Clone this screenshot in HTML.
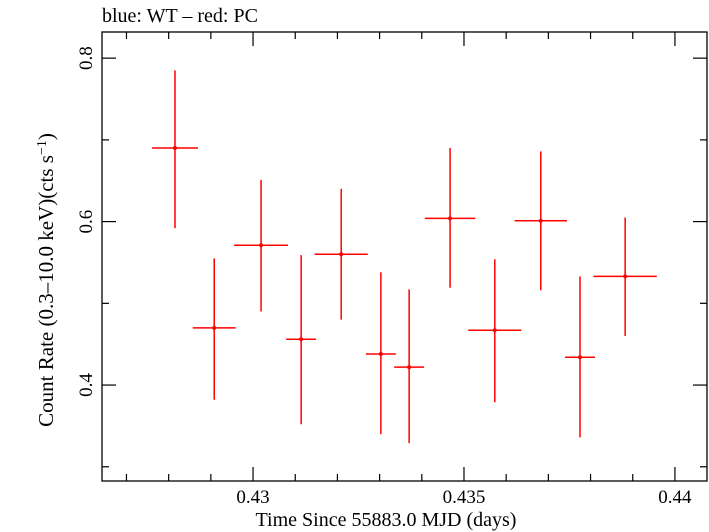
<!DOCTYPE html>
<html><head><meta charset="utf-8"><style>
body{margin:0;background:#fff}
svg{display:block;font-family:"Liberation Serif",serif}
</style></head><body>
<svg id="c" width="709" height="532">
<text x="102" y="22" font-size="20">blue: WT – red: PC</text>
<rect x="102" y="32" width="605" height="449" fill="none" stroke="#000" stroke-width="1.3"/>
<g id="ax"></g>
<g id="marks"></g>
<text x="386" y="526" font-size="20" text-anchor="middle">Time Since 55883.0 MJD (days)</text>
<text transform="translate(53,280) rotate(-90)" font-size="21" text-anchor="middle">Count Rate (0.3–10.0 keV)(cts s<tspan dy="-7" font-size="14">−1</tspan><tspan dy="7">)</tspan></text>
</svg>
<script>
const times=[0.42815,0.42908,0.43019,0.43114,0.43209,0.43303,0.43370,0.43467,0.43573,0.43682,0.43775,0.43882];
const timeErr=[0.000545,0.00051,0.00064,0.000355,0.00063,0.000355,0.000355,0.0006,0.00063,0.00062,0.000355,0.00075];
const rates=[0.690,0.470,0.571,0.456,0.560,0.438,0.422,0.604,0.467,0.601,0.434,0.533];
const rateHi=[0.785,0.555,0.651,0.559,0.640,0.538,0.517,0.690,0.554,0.686,0.533,0.605];
const rateLo=[0.592,0.382,0.490,0.352,0.480,0.340,0.329,0.519,0.379,0.516,0.336,0.460];
const xTickLabels=["0.43","0.435","0.44"];
const yTickLabels=["0.4","0.6","0.8"];
const X0=0.42642,X1=0.44076,Y0=0.2826,Y1=0.832;
const L=102,R=707,T=32,B=481;
const sx=v=>L+(v-X0)/(X1-X0)*(R-L);
const sy=v=>B-(v-Y0)/(Y1-Y0)*(B-T);
const NS="http://www.w3.org/2000/svg";
function mk(tag,attrs,parent){const e=document.createElementNS(NS,tag);for(const k in attrs)e.setAttribute(k,attrs[k]);parent.appendChild(e);return e;}
const ax=document.getElementById('ax'),mg=document.getElementById('marks');
for(let i=0;i<=14;i++){const v=0.427+i*0.001;if(v>X1)break;const x=sx(v);const major=Math.abs((v*1000)%5)<1e-6||Math.abs((v*1000)%5-5)<1e-6;const len=major?14:7;
const t1=mk('line',{x1:x,x2:x,y1:B,y2:B-len,stroke:'#000','stroke-width':1.2},ax);


const t2=mk('line',{x1:x,x2:x,y1:T,y2:T+len,stroke:'#000','stroke-width':1.2},ax);

}
xTickLabels.forEach(s=>{const t=mk('text',{x:sx(parseFloat(s)),y:503,'font-size':19,'text-anchor':'middle'},ax);t.textContent=s;

});
for(let i=3;i<=8;i++){const v=i/10;const y=sy(v);const major=i%2==0;const len=major?14:7;
const t1=mk('line',{x1:L,x2:L+len,y1:y,y2:y,stroke:'#000','stroke-width':1.2},ax);


const t2=mk('line',{x1:R,x2:R-len,y1:y,y2:y,stroke:'#000','stroke-width':1.2},ax);

}
yTickLabels.forEach(s=>{const y=sy(parseFloat(s));const t=mk('text',{transform:`translate(92,${y}) rotate(-90)`,'font-size':19,'text-anchor':'middle'},ax);t.textContent=s;

});
times.forEach((t,i)=>{const g=mk('g',{},mg);


const x=sx(t),y=sy(rates[i]);
mk('line',{x1:sx(t-timeErr[i]),x2:sx(t+timeErr[i]),y1:y,y2:y,stroke:'#f00','stroke-width':1.5},g);
mk('line',{x1:x,x2:x,y1:sy(rateHi[i]),y2:sy(rateLo[i]),stroke:'#f00','stroke-width':1.5},g);
mk('circle',{cx:x,cy:y,r:2,fill:'#f00'},g);});
</script>
</body></html>
